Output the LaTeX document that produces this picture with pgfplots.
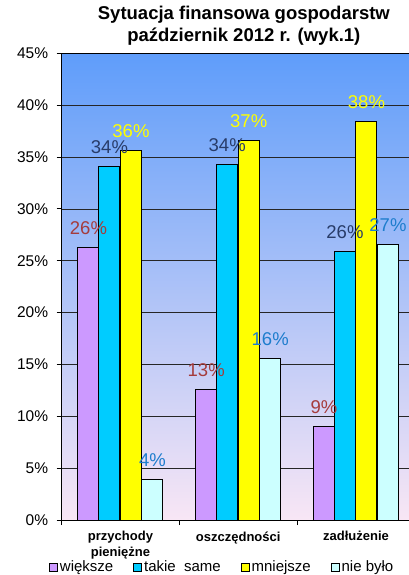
\documentclass[border=0pt]{standalone}
\usepackage{fontspec}
\setmainfont{Liberation Sans}
\usepackage{pgfplots}
\pgfplotsset{compat=1.18}
\usepackage{pgfplotstable}

\definecolor{cw}{RGB}{204,153,255}
\definecolor{ct}{RGB}{0,204,255}
\definecolor{cm}{RGB}{255,255,0}
\definecolor{cn}{RGB}{204,255,255}
\definecolor{lw}{RGB}{165,60,60}
\definecolor{lt}{RGB}{40,60,105}
\definecolor{lm}{RGB}{255,255,0}
\definecolor{ln}{RGB}{30,125,205}
\definecolor{bgtop}{RGB}{95,157,250}
\definecolor{bgmid}{RGB}{165,200,242}
\definecolor{bgbot}{RGB}{248,230,245}

% wartosci w procentach
\pgfplotstableread{
x w t m n
0 26.3 34.1 35.6 3.9
1 12.6 34.3 36.6 15.6
2 9.0 25.9 38.4 26.6
}\dane

\begin{document}
\begin{tikzpicture}
\begin{axis}[
    scale only axis, width=353.25pt, height=466.7pt,
    xmin=-0.5, xmax=2.5, ymin=0, ymax=45,
    ybar, bar width=21pt,
    /pgf/number format/assume math mode=true,
    axis background/.style={top color=bgtop, middle color=bgmid, bottom color=bgbot},
    axis line style={black, line width=0.8pt},
    ymajorgrids, grid style={black!85, line width=0.6pt},
    ytick={0,5,...,45},
    yticklabel={\pgfmathprintnumber{\tick}\%},
    yticklabel style={font=\fontsize{15.5}{17}\selectfont, xshift=-5pt},
    xtick={0,1,2},
    xticklabels={{przychody\\pieniężne},oszczędności,zadłużenie},
    xticklabel style={align=center, font=\fontsize{13}{15.5}\selectfont\bfseries, yshift=-3pt},
    major x tick style={draw=none},
    minor xtick={-0.5,0.5,1.5,2.5},
    tick align=outside, major tick length=5pt, minor tick length=5pt,
    tick style={black, line width=0.8pt},
    xtick pos=bottom, ytick pos=left,
    title={Sytuacja finansowa gospodarstw\\październik 2012 r. (wyk.1)},
    title style={align=center, font=\fontsize{18.5}{22}\selectfont\bfseries,
        at={(0.516,1)}, anchor=south, inner sep=0pt, yshift=2pt},
    legend style={draw=none, fill=none, legend columns=4,
        at={(rel axis cs:0,0)}, anchor=west, xshift=-15.6pt, yshift=-47pt,
        font=\fontsize{15}{17}\selectfont,
        /tikz/every even column/.append style={column sep=18pt}},
    legend image code/.code={\draw[#1,draw=black,line width=0.8pt] (0pt,-4pt) rectangle (8pt,4pt);},
    nodes near coords={\pgfmathprintnumber[fixed,precision=0]{\pgfplotspointmeta}\%},
    every node near coord/.append style={font=\fontsize{18.5}{20}\selectfont,
        anchor=base, inner sep=0pt, yshift=13pt},
]
% pierwsze przejscie: slupki z etykietami (etykiety pod slupkami z drugiego przejscia)
\addplot[fill=cw, draw=black, line width=1pt, bar shift=-32pt,
    every node near coord/.append style={text=lw}] table[x=x,y=w]{\dane};
\addplot[fill=ct, draw=black, line width=1pt, bar shift=-11pt,
    every node near coord/.append style={text=lt}] table[x=x,y=t]{\dane};
\addplot[fill=cm, draw=black, line width=1pt, bar shift=10.5pt,
    every node near coord/.append style={text=lm}] table[x=x,y=m]{\dane};
\addplot[fill=cn, draw=black, line width=1pt, bar shift=32pt,
    every node near coord/.append style={text=ln}] table[x=x,y=n]{\dane};
\legend{większe,takie\ \ same,mniejsze,nie było}
% drugie przejscie: same slupki
\addplot[forget plot, nodes near coords={}, fill=cw, draw=black, line width=1pt, bar shift=-32pt] table[x=x,y=w]{\dane};
\addplot[forget plot, nodes near coords={}, fill=ct, draw=black, line width=1pt, bar shift=-11pt] table[x=x,y=t]{\dane};
\addplot[forget plot, nodes near coords={}, fill=cm, draw=black, line width=1pt, bar shift=10.5pt] table[x=x,y=m]{\dane};
\addplot[forget plot, nodes near coords={}, fill=cn, draw=black, line width=1pt, bar shift=32pt] table[x=x,y=n]{\dane};
\coordinate (bl) at (rel axis cs:0,0);
\end{axis}
\pgfresetboundingbox
\path (bl) ++(-61.6pt,-55pt) rectangle ++(408pt,575pt);
\end{tikzpicture}
\end{document}
